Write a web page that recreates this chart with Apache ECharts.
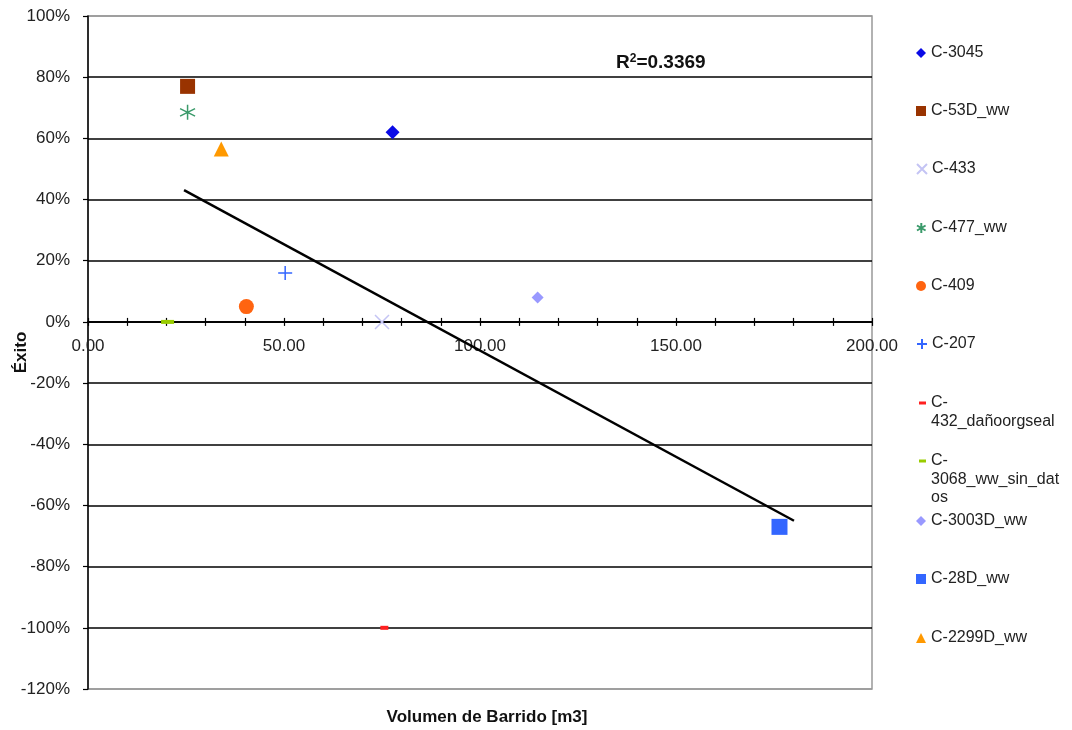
<!DOCTYPE html>
<html>
<head>
<meta charset="utf-8">
<script src="https://cdn.jsdelivr.net/npm/echarts@6/dist/echarts.min.js"></script>
<style>html,body{margin:0;padding:0;background:#fff}#c{width:1072px;height:730px}</style>
</head>
<body>
<div id="c"></div>
<script>
const seriesNames = ['C-3045','C-53D_ww','C-433','C-477_ww','C-409','C-207','C-432_dañoorgseal','C-3068_ww_sin_datos','C-3003D_ww','C-28D_ww','C-2299D_ww'];
const xValues = [77.7, 25.4, 75.0, 25.4, 40.4, 50.3, 75.6, 20.3, 114.7, 176.4, 34.0];
const yValues = [62, 77, 0, 68.5, 5, 16, -100, 0, 8, -67, 56.5];
const trendX = [24.5, 180.1];
const trendY = [43.1, -65];
const r2Text = '0.3369';
const xAxisTitle = 'Volumen de Barrido [m3]';
const yAxisTitle = 'Éxito';

const FONT = 'Liberation Sans, Arial, sans-serif';
const styles = [
  {symbol:'diamond', size:14, color:'#0a0ae6', stroke:false},
  {symbol:'rect', size:15, color:'#993300', stroke:false},
  {symbol:'path://M0,0L10,10M10,0L0,10', size:14, color:'#c4c4f4', stroke:true},
  {symbol:'path://M5,0L5,10M0.7,2.5L9.3,7.5M0.7,7.5L9.3,2.5', size:15, color:'#3a9a6a', stroke:true},
  {symbol:'circle', size:15, color:'#ff6410', stroke:false},
  {symbol:'path://M5,0L5,10M0,5L10,5', size:14, color:'#3366ff', stroke:true},
  {symbol:'rect', size:[8,4], color:'#ff2020', stroke:false},
  {symbol:'rect', size:[13,4], color:'#99cc00', stroke:false},
  {symbol:'diamond', size:12, color:'#9999ff', stroke:false},
  {symbol:'rect', size:16, color:'#3366ff', stroke:false},
  {symbol:'triangle', size:15, color:'#ff9900', stroke:false}
];
const legendCenters = [53, 111, 169, 228, 286, 344, 403, 461, 521, 579, 638];

const LH = 18.5;
function wrapParts(n) {
  if (n.length <= 12) return [n];
  const rest = n.slice(2);
  const parts = ['C-'];
  for (let i = 0; i < rest.length; i += 15) parts.push(rest.slice(i, i + 15));
  return parts;
}
function legendText(n) {
  const parts = wrapParts(n);
  if (parts.length === 1) return '{t|' + n + '}';
  return '{e' + parts.length + '| }\n' + parts.map(p => '{t|' + p + '}').join('\n');
}

const series = seriesNames.map((name, i) => {
  const s = styles[i];
  return {
    name: name,
    type: 'scatter',
    xAxisIndex: 0, yAxisIndex: 0,
    symbol: s.symbol,
    symbolSize: s.size,
    data: [[xValues[i], yValues[i]]],
    itemStyle: s.stroke ? {color: 'rgba(0,0,0,0)', borderColor: s.color, borderWidth: 1.5, opacity: 1} : {color: s.color, opacity: 1},
    z: 5
  };
});
series.push({
  name: 'trend',
  type: 'line',
  xAxisIndex: 0, yAxisIndex: 0,
  data: trendX.map((x, i) => [x, trendY[i]]),
  showSymbol: false,
  symbol: 'none',
  lineStyle: {color: '#000', width: 2.5},
  z: 4,
  silent: true
});

const legends = seriesNames.map((name, i) => {
  const s = styles[i];
  const isDash = Array.isArray(s.size);
  const iw = isDash ? 7 : 10;
  const ih = isDash ? 3 : 10;
  const n = wrapParts(name).length;
  return {
    data: [name],
    orient: 'vertical',
    left: 931 - 5 - iw,
    top: legendCenters[i] - (2 * n - 1) * LH / 2,
    itemWidth: iw,
    itemHeight: ih,
    itemGap: 0,
    padding: 0,
    selectedMode: false,
    formatter: legendText,
    textStyle: {
      fontFamily: FONT, fontSize: 16, color: '#222', lineHeight: LH,
      rich: {
        t: {fontFamily: FONT, fontSize: 16, color: '#222', lineHeight: LH},
        e2: {fontSize: 2, lineHeight: LH},
        e3: {fontSize: 2, lineHeight: 2 * LH}
      }
    }
  };
});

const gridColors = [];
for (let i = 0; i < 12; i++) gridColors.push(i === 0 || i === 11 ? '#999' : '#000');

const gridPos = {left: 88, right: 200, top: 16, bottom: 41, containLabel: false, outerBoundsMode: 'none'};
const zeroOffset = -367.1; // moves the label-only x axis from the bottom edge up to the 0% line

function hiddenY(gi) {
  return {
    type: 'value', gridIndex: gi, min: -120, max: 100, interval: 20,
    axisLine: {show: false, onZero: false}, axisTick: {show: false},
    axisLabel: {show: false}, splitLine: {show: false}
  };
}

const option = {
  animation: false,
  backgroundColor: '#fff',
  grid: [
    Object.assign({show: true, borderColor: '#999', borderWidth: 1.5, backgroundColor: 'transparent'}, gridPos),
    Object.assign({show: false}, gridPos),
    Object.assign({show: false}, gridPos)
  ],
  title: {
    text: '{r|R}{s|2}{r|=' + r2Text + '}',
    left: 616, top: 53, padding: 0,
    textStyle: {
      rich: {
        r: {fontFamily: FONT, fontSize: 19, fontWeight: 'bold', color: '#111'},
        s: {fontFamily: FONT, fontSize: 12, fontWeight: 'bold', color: '#111', padding: [0, 0, 7, 0]}
      }
    }
  },
  legend: legends,
  xAxis: [
    {
      type: 'value', gridIndex: 0, min: 0, max: 200, interval: 50,
      position: 'bottom', offset: zeroOffset,
      axisLine: {show: false, onZero: false}, axisTick: {show: false},
      axisLabel: {margin: 16, fontFamily: FONT, fontSize: 17, color: '#222', formatter: v => v.toFixed(2)},
      splitLine: {show: false}
    },
    {
      type: 'value', gridIndex: 1, min: 0, max: 200, interval: 10,
      axisLine: {onZero: true, lineStyle: {color: '#000', width: 1.5}},
      axisTick: {show: true, inside: false, length: 4, lineStyle: {color: '#000', width: 1.2}},
      axisLabel: {show: false},
      splitLine: {show: false}
    },
    {
      type: 'value', gridIndex: 2, min: 0, max: 200, interval: 10,
      axisLine: {onZero: true, lineStyle: {color: '#000', width: 1.5}},
      axisTick: {show: true, inside: true, length: 4, lineStyle: {color: '#000', width: 1.2}},
      axisLabel: {show: false},
      splitLine: {show: false}
    }
  ],
  yAxis: [
    {
      type: 'value', gridIndex: 0, min: -120, max: 100, interval: 20,
      name: yAxisTitle, nameLocation: 'middle', nameRotate: 90, nameGap: 58, nameMoveOverlap: false,
      nameTextStyle: {fontFamily: FONT, fontSize: 17, fontWeight: 'bold', color: '#111'},
      axisLine: {show: true, onZero: false, lineStyle: {color: '#000', width: 1.5}},
      axisTick: {show: true, inside: false, length: 5, lineStyle: {color: '#000', width: 1.2}},
      axisLabel: {margin: 18, fontFamily: FONT, fontSize: 17, color: '#222', formatter: v => v + '%'},
      splitLine: {show: true, lineStyle: {color: gridColors, width: 1.5}}
    },
    hiddenY(1),
    hiddenY(2)
  ],
  graphic: [
    {type: 'text', x: 487, y: 717,
     style: {text: xAxisTitle, align: 'center', verticalAlign: 'middle', font: 'bold 17px ' + FONT, fill: '#111'}}
  ],
  series: series
};

const chart = echarts.init(document.getElementById('c'), null, {renderer: 'canvas'});
chart.setOption(option);
</script>
</body>
</html>
